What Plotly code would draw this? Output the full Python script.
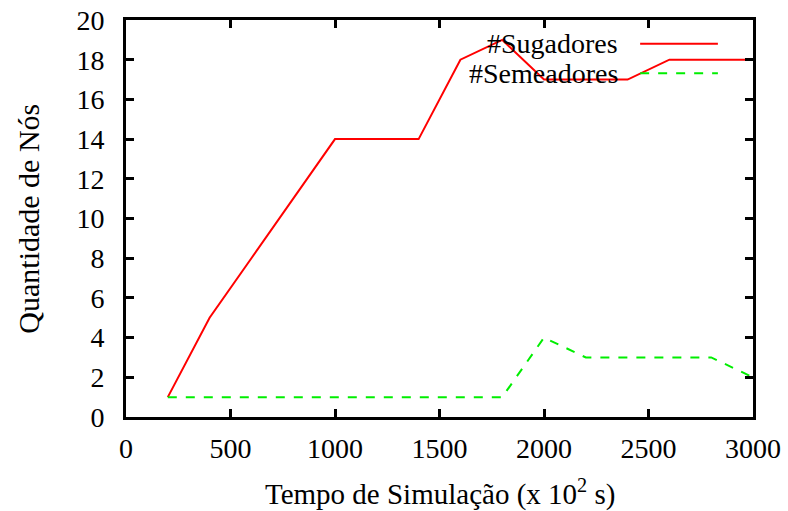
import plotly.graph_objects as go

time = [200, 400, 600, 800, 1000, 1200, 1400, 1600, 1800, 2000, 2200, 2400, 2600, 2800, 3000]
sugadores = [1, 5, 8, 11, 14, 14, 14, 18, 19, 17, 17, 17, 18, 18, 18]
semeadores = [1, 1, 1, 1, 1, 1, 1, 1, 1, 4, 3, 3, 3, 3, 2]
x_ticks = [0, 500, 1000, 1500, 2000, 2500, 3000]
y_ticks = list(range(0, 21, 2))

FONT = "Liberation Serif, Times New Roman, serif"
L, R, T, B = 126, 35, 20, 94

fig = go.Figure()
fig.add_trace(go.Scatter(x=time, y=sugadores, mode="lines", name="#Sugadores",
                         line=dict(color="#ff0000", width=2)))
fig.add_trace(go.Scatter(x=time, y=semeadores, mode="lines", name="#Semeadores",
                         line=dict(color="#00ee00", width=2, dash="dash")))

axis_common = dict(showgrid=False, zeroline=False, showline=True, linecolor="black",
                   linewidth=3, mirror="ticks", ticks="inside", ticklen=8, tickwidth=3,
                   tickcolor="black", automargin=False,
                   tickfont=dict(family=FONT, size=28, color="black"))

fig.update_xaxes(range=[0, 3000], tickvals=x_ticks, ticktext=[str(v) for v in x_ticks],
                 ticklabelstandoff=4, **axis_common)
fig.update_yaxes(range=[0, 20], tickvals=y_ticks, ticktext=[str(v) for v in y_ticks],
                 ticklabelstandoff=13, **axis_common)

# axis titles
fig.add_annotation(x=0.5, y=-0.191, xref="paper", yref="paper",
                   text="Tempo de Simulação (x 10<sup>2</sup> s)", showarrow=False,
                   xanchor="center", yanchor="middle",
                   font=dict(family=FONT, size=29, color="black"))
fig.add_annotation(x=-0.156, y=0.5, xref="paper", yref="paper",
                   text="Quantidade de Nós", showarrow=False, textangle=-90,
                   xanchor="center", yanchor="middle",
                   font=dict(family=FONT, size=30, color="black"))

# gnuplot-style legend: text right-aligned, sample to its right
legend_items = [("#Sugadores", "#ff0000", "solid", 0.94),
                ("#Semeadores", "#00ee00", "dash", 0.866)]
for name, color, dash, yp in legend_items:
    fig.add_annotation(x=0.788, y=yp, xref="paper", yref="paper", text=name,
                       showarrow=False, xanchor="right", yanchor="middle",
                       font=dict(family=FONT, size=28, color="black"))
    fig.add_shape(type="line", xref="paper", yref="paper", x0=0.82, x1=0.944,
                  y0=yp, y1=yp, line=dict(color=color, width=2, dash=dash))

fig.update_layout(width=788, height=511, margin=dict(l=L, r=R, t=T, b=B),
                  plot_bgcolor="white", paper_bgcolor="white", showlegend=False,
                  font=dict(family=FONT, color="black"))

fig.write_html("out.html")
